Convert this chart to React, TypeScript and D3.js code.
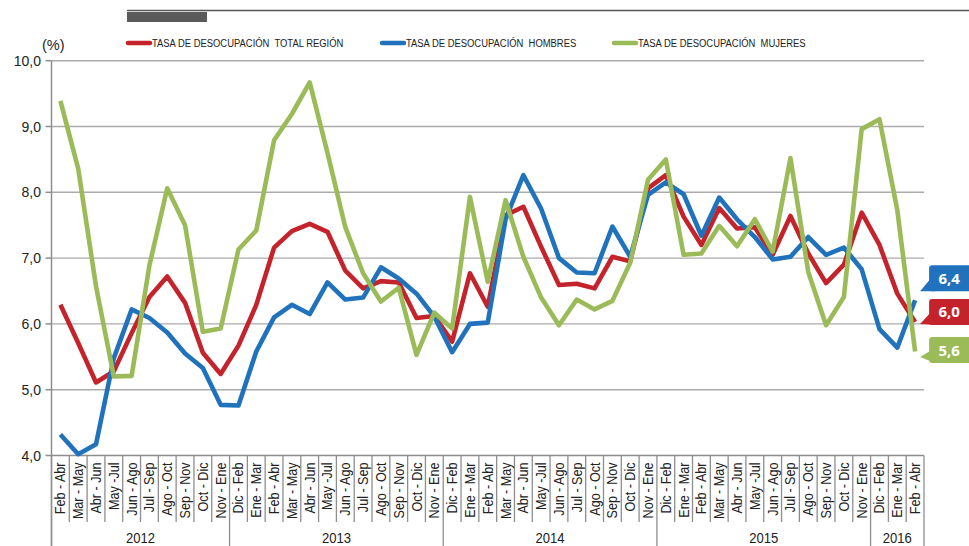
import { useRef, useEffect } from 'react';
import * as d3 from 'd3';

const periods = [
  'Feb - Abr', 'Mar - May', 'Abr - Jun', 'May -Jul', 'Jun - Ago', 'Jul - Sep', 'Ago - Oct', 'Sep - Nov', 'Oct - Dic', 'Nov - Ene',
  'Dic - Feb', 'Ene - Mar', 'Feb - Abr', 'Mar - May', 'Abr - Jun', 'May -Jul', 'Jun - Ago', 'Jul - Sep', 'Ago - Oct', 'Sep - Nov', 'Oct - Dic', 'Nov - Ene',
  'Dic - Feb', 'Ene - Mar', 'Feb - Abr', 'Mar - May', 'Abr - Jun', 'May -Jul', 'Jun - Ago', 'Jul - Sep', 'Ago - Oct', 'Sep - Nov', 'Oct - Dic', 'Nov - Ene',
  'Dic - Feb', 'Ene - Mar', 'Feb - Abr', 'Mar - May', 'Abr - Jun', 'May -Jul', 'Jun - Ago', 'Jul - Sep', 'Ago - Oct', 'Sep - Nov', 'Oct - Dic', 'Nov - Ene',
  'Dic - Feb', 'Ene - Mar', 'Feb - Abr',
];
const years = ['2012', '2013', '2014', '2015', '2016'];
const yearSpans = [10, 12, 12, 12, 3];

const total = [
  6.29, 5.71, 5.11, 5.28, 5.86, 6.41, 6.72, 6.32, 5.56, 5.24,
  5.67, 6.29, 7.16, 7.41, 7.52, 7.40, 6.81, 6.54, 6.65, 6.63, 6.09, 6.12,
  5.73, 6.77, 6.26, 7.65, 7.78, 7.17, 6.59, 6.61, 6.54, 7.02, 6.95, 8.06,
  8.26, 7.63, 7.20, 7.76, 7.45, 7.47, 7.05, 7.64, 7.07, 6.62, 6.90, 7.69,
  7.20, 6.46, 6.03,
];
const hombres = [
  4.32, 4.02, 4.17, 5.48, 6.22, 6.09, 5.87, 5.55, 5.33, 4.77,
  4.76, 5.58, 6.10, 6.29, 6.15, 6.63, 6.37, 6.40, 6.86, 6.69, 6.46, 6.11,
  5.57, 6.00, 6.02, 7.59, 8.26, 7.75, 7.00, 6.78, 6.77, 7.48, 7.02, 7.96,
  8.15, 7.97, 7.34, 7.92, 7.59, 7.32, 6.98, 7.02, 7.32, 7.05, 7.16, 6.83,
  5.92, 5.64, 6.36,
];
const mujeres = [
  9.39, 8.36, 6.57, 5.20, 5.21, 6.89, 8.06, 7.50, 5.88, 5.93,
  7.13, 7.42, 8.79, 9.19, 9.67, 8.60, 7.47, 6.77, 6.34, 6.55, 5.53, 6.17,
  5.93, 7.93, 6.64, 7.88, 7.02, 6.40, 5.98, 6.37, 6.22, 6.35, 6.93, 8.19,
  8.50, 7.05, 7.07, 7.49, 7.18, 7.59, 7.10, 8.52, 6.79, 5.98, 6.41, 8.96,
  9.11, 7.73, 5.58,
];
const yTicks = [4, 5, 6, 7, 8, 9, 10];

const seriesNames = [
  'TASA DE DESOCUPACIÓN  TOTAL REGIÓN',
  'TASA DE DESOCUPACIÓN  HOMBRES',
  'TASA DE DESOCUPACIÓN  MUJERES',
];

const sans = "'Liberation Sans', Arial, sans-serif";

function Chart() {
  const ref = useRef(null);

  useEffect(() => {
    const svg = d3.select(ref.current);
    svg.selectAll('*').remove();

    const left = 51.5, right = 924, top = 60.7, bottom = 455.5;
    const x = d3.scaleBand().domain(d3.range(periods.length)).range([left, right]);
    const y = d3.scaleLinear().domain([4, 10]).range([bottom, top]);
    const cx = (i) => x(i) + x.bandwidth() / 2;
    const comma = (v) => d3.format('.1f')(v).replace('.', ',');
    const axisColor = '#8e8e8e';

    const series = [
      { name: seriesNames[0], values: total, color: '#c4232b', legendX: 128, boxDy: -23, tipDy: 2 },
      { name: seriesNames[1], values: hombres, color: '#1f72bb', legendX: 382, boxDy: -35, tipDy: -9 },
      { name: seriesNames[2], values: mujeres, color: '#9bbb59', legendX: 614, boxDy: -14.5, tipDy: 5.5 },
    ];

    // header rule
    svg.append('line').attr('x1', 127).attr('x2', 969).attr('y1', 10.5).attr('y2', 10.5)
      .attr('stroke', '#555').attr('stroke-width', 1.5);
    svg.append('rect').attr('x', 127).attr('y', 12).attr('width', 80).attr('height', 10).attr('fill', '#5a5a5a');

    // grid
    svg.append('g').selectAll('line').data(yTicks.slice(1)).join('line')
      .attr('x1', left).attr('x2', right)
      .attr('y1', d => y(d)).attr('y2', d => y(d))
      .attr('stroke', '#ababab').attr('stroke-width', 1.4);

    // y axis
    svg.append('line').attr('x1', left).attr('x2', left).attr('y1', top).attr('y2', 546)
      .attr('stroke', axisColor).attr('stroke-width', 1.5);
    const yg = svg.append('g');
    yg.selectAll('line').data(yTicks).join('line')
      .attr('x1', left - 6).attr('x2', left).attr('y1', d => y(d)).attr('y2', d => y(d))
      .attr('stroke', axisColor).attr('stroke-width', 1.5);
    yg.selectAll('text').data(yTicks).join('text')
      .attr('x', 41).attr('y', d => y(d) + 5).attr('text-anchor', 'end')
      .style('font-family', sans).style('font-size', '14px')
      .attr('fill', '#222').text(d => comma(d));
    svg.append('text').attr('x', 42).attr('y', 50).text('(%)')
      .style('font-family', sans).style('font-size', '14.5px').attr('fill', '#222');

    // x axis
    svg.append('line').attr('x1', left).attr('x2', right).attr('y1', bottom).attr('y2', bottom)
      .attr('stroke', axisColor).attr('stroke-width', 1.5);
    const yearEdges = [0];
    yearSpans.forEach((s, k) => yearEdges.push(yearEdges[k] + s));
    const edges = d3.range(periods.length + 1);
    svg.append('g').selectAll('line').data(edges).join('line')
      .attr('x1', i => (i < periods.length ? x(i) : right)).attr('x2', i => (i < periods.length ? x(i) : right))
      .attr('y1', bottom).attr('y2', i => (yearEdges.includes(i) ? 546 : 522))
      .attr('stroke', axisColor).attr('stroke-width', 1.3);
    svg.append('g').selectAll('text').data(periods).join('text')
      .attr('transform', (d, i) => `translate(${cx(i) + 5},${bottom + 7}) rotate(-90) scale(0.9,1)`)
      .attr('text-anchor', 'end')
      .style('font-family', sans).style('font-size', '14px').attr('fill', '#222')
      .text(d => d);
    svg.append('g').selectAll('text').data(years).join('text')
      .attr('transform', (d, k) => {
        const a = x(yearEdges[k]);
        const b = yearEdges[k + 1] < periods.length ? x(yearEdges[k + 1]) : right;
        return `translate(${(a + b) / 2},543) scale(0.9,1)`;
      })
      .attr('text-anchor', 'middle')
      .style('font-family', sans).style('font-size', '14.5px').attr('fill', '#222')
      .text(d => d);

    // lines
    const line = d3.line().x((d, i) => cx(i)).y(d => y(d));
    series.forEach(s => {
      svg.append('path').datum(s.values).attr('d', line)
        .attr('fill', 'none').attr('stroke', s.color).attr('stroke-width', 4.6)
        .attr('stroke-linejoin', 'round');
    });

    // legend
    series.forEach(s => {
      svg.append('line').attr('x1', s.legendX).attr('x2', s.legendX + 22).attr('y1', 43).attr('y2', 43)
        .attr('stroke', s.color).attr('stroke-width', 4.5).attr('stroke-linecap', 'round');
      svg.append('text').attr('transform', `translate(${s.legendX + 24},47) scale(0.82,1)`).text(s.name)
        .style('font-family', sans).style('font-size', '11.5px').attr('fill', '#222')
        .style('white-space', 'pre');
    });

    // end callouts
    series.forEach(s => {
      const last = s.values.length - 1;
      const ly = y(s.values[last]);
      const tipX = cx(last) + 5;
      const tipY = ly + s.tipDy;
      const bx = tipX + 9, by = ly + s.boxDy, bh = 26;
      const g = svg.append('g');
      g.append('rect').attr('x', bx).attr('y', by).attr('width', 50).attr('height', bh)
        .attr('rx', 3).attr('fill', s.color);
      g.append('path')
        .attr('d', `M${bx + 1},${by + bh - 12}L${bx + 6},${by + bh}L${tipX},${tipY}Z`)
        .attr('fill', s.color);
      g.append('text').attr('x', bx + 20).attr('y', by + 18.5).attr('text-anchor', 'middle')
        .style('font-family', "'Open Sans', sans-serif").style('font-size', '15px')
        .style('font-weight', 700).attr('fill', '#fff').text(comma(s.values[last]));
    });
  }, []);

  return <svg ref={ref} width={969} height={546} style={{ display: 'block' }}></svg>;
}

export default function App() {
  return (
    <div style={{ position: 'absolute', left: 0, top: 0 }}>
      <Chart />
    </div>
  );
}
